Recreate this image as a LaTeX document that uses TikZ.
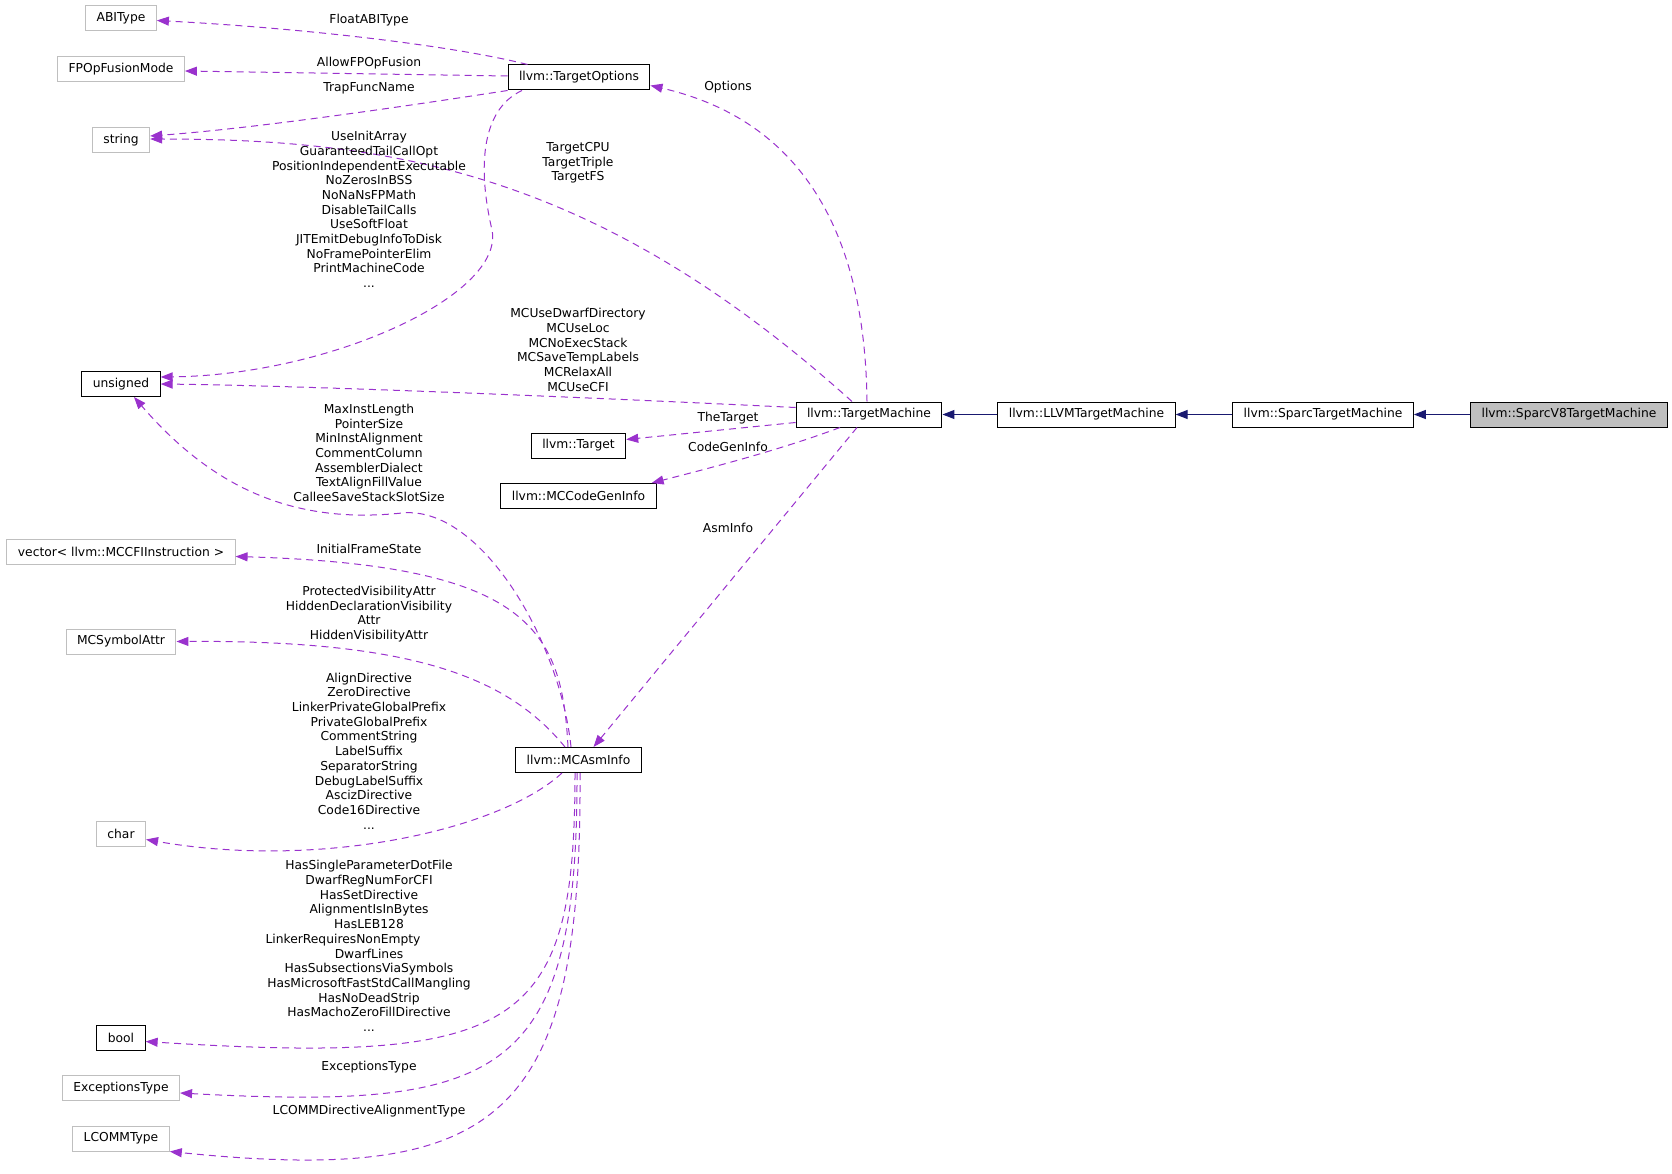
\documentclass[tikz,border=0pt]{standalone}
\usepackage{fontspec}
\setmainfont{DejaVu Sans}
\usetikzlibrary{arrows.meta}
\definecolor{edgepurple}{HTML}{9A32CD}
\definecolor{edgenavy}{HTML}{191970}
\definecolor{boxgray}{HTML}{BFBFBF}
\tikzset{
  cls/.style={draw=black, line width=1pt, fill=white, minimum height=25pt, inner xsep=11pt, inner ysep=0pt, font=\fontsize{12.3}{14.7}\selectfont},
  ext/.style={cls, draw=boxgray},
  cur/.style={cls, fill=boxgray},
  lbl/.style={align=center, inner sep=0pt, font=\fontsize{12.3}{14.7}\selectfont},
  uses/.style={draw=edgepurple, line width=1pt, dash pattern=on 7pt off 5pt, -{Triangle[length=12pt,width=9pt]}},
  inherit/.style={draw=edgenavy, line width=1.2pt, -{Triangle[length=12pt,width=9pt]}},
}
\begin{document}
\begin{tikzpicture}[x=1pt, y=-1pt]
        \useasboundingbox (0,0) rectangle (1672,1174);

        % left column
        \node[ext] (abi) at (121,18.5) {ABIType};
        \node[ext] (fpop) at (121,69.5) {FPOpFusionMode};
        \node[ext] (str) at (121,140) {string};
        \node[cls] (uns) at (121,384) {unsigned};
        \node[ext] (vec) at (121,551.5) {vector< llvm::MCCFIInstruction >};
        \node[ext] (sym) at (121,641.5) {MCSymbolAttr};
        \node[ext] (chr) at (121,833.5) {char};
        \node[cls] (bool) at (121,1037.5) {bool};
        \node[ext] (exc) at (121,1088) {ExceptionsType};
        \node[ext] (lcomm) at (121,1138.5) {LCOMMType};

        % middle column
        \node[cls] (opts) at (579,77.5) {llvm::TargetOptions};
        \node[cls] (tgt) at (578.5,445.5) {llvm::Target};
        \node[cls] (cgi) at (578.5,496) {llvm::MCCodeGenInfo};
        \node[cls] (asm) at (578.5,760) {llvm::MCAsmInfo};

        % class chain
        \node[cls] (tm) at (869,414.5) {llvm::TargetMachine};
        \node[cls] (lltm) at (1086.5,414.5) {llvm::LLVMTargetMachine};
        \node[cls] (sparc) at (1323,414.5) {llvm::SparcTargetMachine};
        \node[cur] (v8) at (1569,414.5) {llvm::SparcV8TargetMachine};

        \draw[inherit] (lltm) -- (tm);
        \draw[inherit] (sparc) -- (lltm);
        \draw[inherit] (v8) -- (sparc);

        % TargetOptions members
        \draw[uses] ([xshift=20pt]opts.north west) .. controls (450,45) and (300,28) .. ([yshift=-2pt]abi.east);
        \draw[uses] ([yshift=1.5pt]opts.west) -- ([yshift=-1.5pt]fpop.east);
        \draw[uses] (opts.south west) .. controls (420,104) and (260,128) .. ([yshift=4pt]str.east);
        \draw[uses] ([xshift=-57pt]opts.south) .. controls (480,110) and (478,170) .. (492,230)
            .. controls (505,295) and (330,375) .. ([yshift=7pt]uns.east);

        % TargetMachine members
        \draw[uses] ([xshift=-17pt]tm.north) .. controls (602,177) and (400,139) .. ([yshift=1pt]str.east);
        \draw[uses] ([xshift=-2pt]tm.north) .. controls (865,230) and (800,120) .. ([yshift=-8pt]opts.east);
        \draw[uses] ([yshift=7pt]tm.west) .. controls (600,398) and (320,386) .. (uns.east);
        \draw[uses] ([yshift=-8pt]tm.west) -- ([yshift=6pt]tgt.east);
        \draw[uses] ([xshift=-29pt]tm.south) .. controls (780,450) and (710,468) .. ([xshift=-5pt]cgi.north east);
        \draw[uses] ([xshift=-12pt]tm.south) -- ([xshift=15pt]asm.north);

        % MCAsmInfo members
        \draw[uses] ([xshift=-7.5pt]asm.north) .. controls (560,640) and (480,505) .. (402,513)
            .. controls (290,525) and (210,485) .. ([xshift=13pt]uns.south);
        \draw[uses] ([xshift=-10.5pt]asm.north) .. controls (562,630) and (530,565) .. ([yshift=-5pt]vec.east);
        \draw[uses] ([xshift=-13.5pt]asm.north) .. controls (510,680) and (420,640) .. (sym.east);
        \draw[uses] ([xshift=-16.5pt]asm.south) .. controls (500,830) and (320,870) .. ([yshift=-6pt]chr.east);
        \draw[uses] ([xshift=-3.5pt]asm.south) .. controls (575,1030) and (520,1065) .. ([yshift=-4pt]bool.east);
        \draw[uses] ([xshift=-1.5pt]asm.south) .. controls (578,1080) and (500,1110) .. ([yshift=-5pt]exc.east);
        \draw[uses] ([xshift=1.5pt]asm.south) .. controls (582,1120) and (500,1185) .. (lcomm.south east);

        % edge labels
        \node[lbl] (l-fabi) at (369,20) {FloatABIType};
        \node[lbl] (l-fpop) at (369,63) {AllowFPOpFusion};
        \node[lbl] (l-trap) at (369,88) {TrapFuncName};
        \node[lbl] (l-tm-str) at (578,163) {TargetCPU\\TargetTriple\\TargetFS};
        \node[lbl] (l-opts-uns) at (369,209.5) {UseInitArray\\GuaranteedTailCallOpt\\PositionIndependentExecutable\\NoZerosInBSS\\NoNaNsFPMath\\DisableTailCalls\\UseSoftFloat\\JITEmitDebugInfoToDisk\\NoFramePointerElim\\PrintMachineCode\\...};
        \node[lbl] (l-opts) at (728,87) {Options};
        \node[lbl] (l-tm-uns) at (578,350) {MCUseDwarfDirectory\\MCUseLoc\\MCNoExecStack\\MCSaveTempLabels\\MCRelaxAll\\MCUseCFI};
        \node[lbl] (l-tgt) at (728,418) {TheTarget};
        \node[lbl] (l-cgi) at (728,447) {CodeGenInfo};
        \node[lbl] (l-asm) at (728,528) {AsmInfo};
        \node[lbl] (l-asm-uns) at (369,453) {MaxInstLength\\PointerSize\\MinInstAlignment\\CommentColumn\\AssemblerDialect\\TextAlignFillValue\\CalleeSaveStackSlotSize};
        \node[lbl] (l-vec) at (369,549) {InitialFrameState};
        \node[lbl] (l-sym) at (369,614) {ProtectedVisibilityAttr\\HiddenDeclarationVisibility\\Attr\\HiddenVisibilityAttr};
        \node[lbl] (l-chr) at (369,751) {AlignDirective\\ZeroDirective\\LinkerPrivateGlobalPrefix\\PrivateGlobalPrefix\\CommentString\\LabelSuffix\\SeparatorString\\DebugLabelSuffix\\AscizDirective\\Code16Directive\\...};
        \node[lbl] (l-bool) at (369,946) {HasSingleParameterDotFile\\DwarfRegNumForCFI\\HasSetDirective\\AlignmentIsInBytes\\HasLEB128\\LinkerRequiresNonEmpty\rule{52pt}{0pt}\\DwarfLines\\HasSubsectionsViaSymbols\\HasMicrosoftFastStdCallMangling\\HasNoDeadStrip\\HasMachoZeroFillDirective\\...};
        \node[lbl] (l-exc) at (369,1067) {ExceptionsType};
        \node[lbl] (l-lcomm) at (369,1111) {LCOMMDirectiveAlignmentType};
    \end{tikzpicture}
\end{document}
